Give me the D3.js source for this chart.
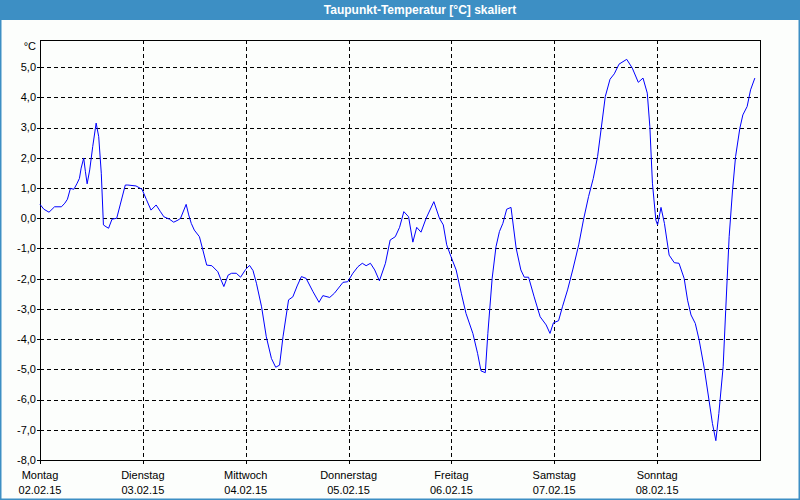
<!DOCTYPE html>
<html>
<head>
<meta charset="utf-8">
<script src="https://cdn.jsdelivr.net/npm/d3@7"></script>
<style>
  body { margin: 0; background: #fcfefc; }
  text { font-family: "Liberation Sans", Arial, sans-serif; }
</style>
</head>
<body>
<div id="chart"></div>
<script>
// Chart data: hours since Monday 00:00 and dew point values
const hours = [0, 0.9, 2.1, 3.4, 5.0, 5.8, 6.4, 7.1, 7.9, 8.6, 9.2, 9.6, 10.2, 10.6, 11.0, 11.6,
    12.3, 13.1, 13.7, 14.3, 14.8, 15.4, 16.0, 16.8, 17.9, 18.7, 19.9, 20.5, 22.4, 23.8, 24.8,
    25.9, 27.1, 28.1, 28.9, 30.2, 31.2, 32.2, 32.8, 34.1, 34.7, 35.3, 36.0, 37.2, 38.0, 38.9,
    40.1, 41.5, 42.1, 42.9, 43.9, 44.7, 45.8, 46.8, 48.0, 48.9, 49.7, 50.5, 51.7, 52.8, 54.0,
    55.0, 55.9, 56.7, 58.0, 59.0, 60.0, 61.0, 62.1, 63.7, 65.1, 66.0, 67.6, 68.7, 70.7, 71.8,
    73.0, 74.2, 75.2, 76.1, 77.1, 78.1, 79.2, 80.6, 81.7, 82.9, 83.9, 84.9, 86.0, 87.0, 87.9,
    88.9, 90.1, 91.9, 93.2, 94.1, 94.9, 95.9, 97.1, 98.3, 99.4, 101.0, 102.1, 102.9, 103.9,
    104.5, 105.5, 106.4, 107.2, 108.0, 108.9, 109.9, 111.1, 112.2, 113.0, 114.0, 115.3, 116.7,
    118.1, 119.0, 119.8, 121.0, 121.9, 123.1, 124.3, 125.7, 126.8, 128.0, 129.1, 130.1, 130.9,
    131.9, 133.0, 134.0, 135.1, 136.9, 138.2, 139.6, 140.7, 141.7, 142.3, 142.9, 143.7, 144.1,
    144.9, 145.7, 146.8, 148.0, 149.1, 150.3, 151.1, 151.9, 152.9, 153.8, 155.0, 156.1, 156.9,
    157.7, 158.4, 159.4, 160.0, 160.8, 161.6, 162.3, 163.3, 164.0, 165.0, 165.8, 166.8];

const values = [0.46, 0.30, 0.20, 0.38, 0.38, 0.50, 0.63, 0.99, 0.96, 1.14, 1.32, 1.66, 1.99, 1.54, 1.14, 1.60,
    2.37, 3.15, 2.70, 1.49, -0.22, -0.28, -0.33, -0.03, 0.00, 0.44, 1.10, 1.10, 1.07, 0.96, 0.63,
    0.27, 0.44, 0.22, 0.05, -0.03, -0.13, -0.06, 0.00, 0.46, 0.11, -0.17, -0.39, -0.61, -1.05, -1.55,
    -1.57, -1.77, -1.99, -2.26, -1.88, -1.82, -1.82, -1.95, -1.69, -1.56, -1.73, -2.15, -2.93, -3.92, -4.64,
    -4.93, -4.86, -3.92, -2.70, -2.60, -2.24, -1.93, -1.99, -2.43, -2.78, -2.56, -2.62, -2.48, -2.12, -2.10,
    -1.82, -1.60, -1.49, -1.57, -1.49, -1.71, -2.07, -1.49, -0.72, -0.61, -0.30, 0.22, 0.05, -0.79, -0.30,
    -0.46, 0.00, 0.55, 0.00, -0.22, -0.88, -1.27, -1.71, -2.48, -3.15, -3.81, -4.47, -5.05, -5.11,
    -3.81, -1.99, -0.94, -0.44, -0.17, 0.30, 0.36, -0.99, -1.71, -1.95, -1.95, -2.60, -3.26,
    -3.53, -3.81, -3.46, -3.39, -2.93, -2.37, -1.71, -0.88, -0.06, 0.72, 1.32, 2.04, 2.92,
    4.03, 4.60, 4.78, 5.10, 5.26, 4.97, 4.50, 4.64, 4.14, 3.03, 1.16, -0.06, -0.22,
    0.36, -0.17, -1.22, -1.47, -1.49, -1.99, -2.71, -3.20, -3.48, -4.03, -4.97, -6.02, -6.79,
    -7.36, -6.46, -4.91, -3.04, -0.61, 0.94, 2.04, 2.98, 3.42, 3.70, 4.25, 4.64];

const dayNames = ["Montag", "Dienstag", "Mittwoch", "Donnerstag", "Freitag", "Samstag", "Sonntag"];
const dayDates = ["02.02.15", "03.02.15", "04.02.15", "05.02.15", "06.02.15", "07.02.15", "08.02.15"];
const yTicks = [5, 4, 3, 2, 1, 0, -1, -2, -3, -4, -5, -6, -7, -8];

const width = 800, height = 500;
const margin = {top: 40, right: 40, bottom: 40, left: 40};

const x = d3.scaleLinear().domain([0, 168]).range([margin.left, width - margin.right]);
const y = d3.scaleLinear().domain([-8, 5.9]).range([height - margin.bottom, margin.top]);

const svg = d3.create("svg")
    .attr("width", width)
    .attr("height", height)
    .attr("viewBox", [0, 0, width, height]);

// Window background and frame
svg.append("rect")
    .attr("x", 0).attr("y", 0)
    .attr("width", width).attr("height", height)
    .attr("fill", "#fcfefc");

svg.append("rect")
    .attr("x", 0.5).attr("y", 0.5)
    .attr("width", width - 1).attr("height", height - 1)
    .attr("fill", "none")
    .attr("stroke", "#3d8fc4")
    .attr("stroke-width", 2);

// Title bar
svg.append("rect")
    .attr("x", 0).attr("y", 0)
    .attr("width", width).attr("height", 20)
    .attr("fill", "#3d8fc4");

svg.append("text")
    .attr("x", 420).attr("y", 14)
    .attr("text-anchor", "middle")
    .attr("fill", "#fff")
    .style("font-size", "12px")
    .style("font-weight", "bold")
    .text("Taupunkt-Temperatur [°C] skaliert");

// Horizontal grid lines
svg.append("g")
    .selectAll("line")
    .data(yTicks.filter(d => d > -8))
    .join("line")
    .attr("x1", margin.left).attr("x2", width - margin.right)
    .attr("y1", d => Math.round(y(d)) + 0.5).attr("y2", d => Math.round(y(d)) + 0.5)
    .attr("stroke", "#000")
    .attr("stroke-dasharray", "4,3")
    .attr("shape-rendering", "crispEdges");

// Vertical grid lines at day boundaries
svg.append("g")
    .selectAll("line")
    .data(d3.range(1, 7))
    .join("line")
    .attr("x1", d => Math.round(x(d * 24)) + 0.5).attr("x2", d => Math.round(x(d * 24)) + 0.5)
    .attr("y1", margin.top).attr("y2", height - margin.bottom)
    .attr("stroke", "#000")
    .attr("stroke-dasharray", "4,3")
    .attr("shape-rendering", "crispEdges");

// Y axis labels and small ticks
const yAxis = svg.append("g");
yAxis.selectAll("line")
    .data(yTicks)
    .join("line")
    .attr("x1", margin.left - 3).attr("x2", margin.left)
    .attr("y1", d => Math.round(y(d)) + 0.5).attr("y2", d => Math.round(y(d)) + 0.5)
    .attr("stroke", "#000")
    .attr("shape-rendering", "crispEdges");
yAxis.selectAll("text")
    .data(yTicks)
    .join("text")
    .attr("x", 36)
    .attr("y", d => y(d))
    .attr("dy", "0.35em")
    .attr("text-anchor", "end")
    .style("font-size", "11px")
    .attr("fill", "#000")
    .text(d => d3.format(".1f")(d).replace(".", ",").replace("−", "-"));

svg.append("text")
    .attr("x", 36).attr("y", 46)
    .attr("dy", "0.35em")
    .attr("text-anchor", "end")
    .style("font-size", "11px")
    .text("°C");

// X axis labels and small ticks
const xAxis = svg.append("g");
xAxis.selectAll("line")
    .data(d3.range(0, 7))
    .join("line")
    .attr("x1", d => Math.round(x(d * 24)) + 0.5).attr("x2", d => Math.round(x(d * 24)) + 0.5)
    .attr("y1", height - margin.bottom).attr("y2", height - margin.bottom + 4)
    .attr("stroke", "#000")
    .attr("shape-rendering", "crispEdges");
xAxis.selectAll("text.day")
    .data(dayNames)
    .join("text")
    .attr("class", "day")
    .attr("x", (d, i) => x(i * 24))
    .attr("y", 479)
    .attr("text-anchor", "middle")
    .style("font-size", "11px")
    .text(d => d);
xAxis.selectAll("text.date")
    .data(dayDates)
    .join("text")
    .attr("class", "date")
    .attr("x", (d, i) => x(i * 24))
    .attr("y", 494)
    .attr("text-anchor", "middle")
    .style("font-size", "11px")
    .text(d => d);

// Plot frame
svg.append("rect")
    .attr("x", margin.left + 0.5).attr("y", margin.top + 0.5)
    .attr("width", width - margin.left - margin.right)
    .attr("height", height - margin.top - margin.bottom)
    .attr("fill", "none")
    .attr("stroke", "#000")
    .attr("shape-rendering", "crispEdges");

// Dew point line
const line = d3.line()
    .x((d, i) => x(hours[i]))
    .y(d => y(d));

svg.append("path")
    .datum(values)
    .attr("fill", "none")
    .attr("stroke", "#0000ff")
    .attr("stroke-width", 1)
    .attr("d", line);

document.getElementById("chart").appendChild(svg.node());
</script>
</body>
</html>
